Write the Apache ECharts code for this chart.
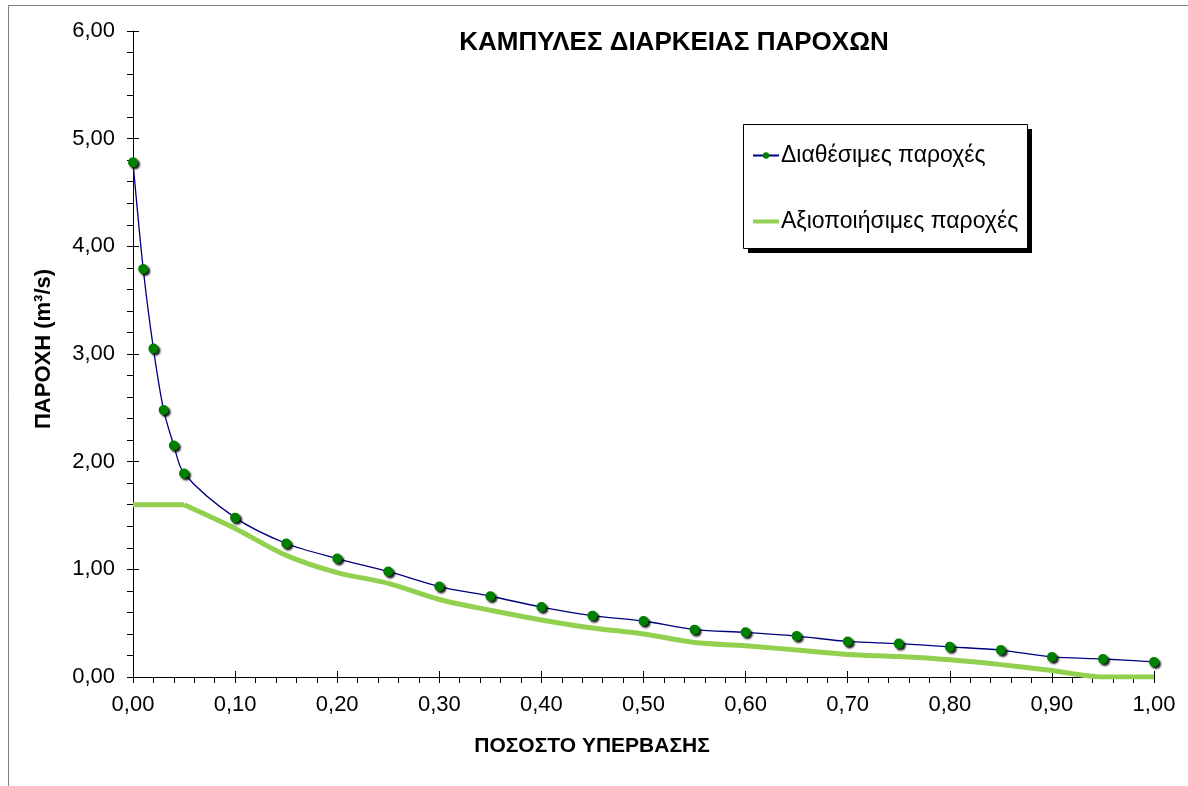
<!DOCTYPE html>
<html>
<head>
<meta charset="utf-8">
<title>Καμπύλες διάρκειας παροχών</title>
<script src="https://cdn.jsdelivr.net/npm/echarts@6/dist/echarts.min.js"></script>
<style>
  html, body { margin: 0; padding: 0; background: #ffffff; }
  #chart { width: 1188px; height: 786px; }
</style>
</head>
<body>
<div id="chart"></div>
<script>
// ποσοστό υπέρβασης / διαθέσιμες παροχές
const availX = [0, 0.01, 0.02, 0.03, 0.04, 0.05, 0.10, 0.15, 0.20, 0.25, 0.30, 0.35, 0.40, 0.45, 0.50, 0.55, 0.60, 0.65, 0.70, 0.75, 0.80, 0.85, 0.90, 0.95, 1.00]
const availY = [4.78, 3.79, 3.05, 2.48, 2.15, 1.89, 1.48, 1.24, 1.10, 0.98, 0.84, 0.75, 0.65, 0.57, 0.52, 0.44, 0.415, 0.38, 0.33, 0.31, 0.28, 0.25, 0.186, 0.167, 0.14]

// αξιοποιήσιμες παροχές (σταθερή 1,60 έως 0,05)
const usableX = [0, 0.01, 0.02, 0.03, 0.04, 0.05, 0.10, 0.15, 0.20, 0.25, 0.30, 0.35, 0.40, 0.45, 0.50, 0.55, 0.60, 0.65, 0.70, 0.75, 0.80, 0.85, 0.90, 0.95, 1.00]
const usableY = [1.60, 1.60, 1.60, 1.60, 1.60, 1.60, 1.38, 1.13, 0.97, 0.87, 0.72, 0.62, 0.53, 0.455, 0.40, 0.32, 0.29, 0.25, 0.21, 0.19, 0.16, 0.115, 0.06, 0.0, 0.0]

const FONT = '"Liberation Sans", Arial, sans-serif'
const fmt = v => v.toFixed(2).replace('.', ',')
const NAME_AVAIL = 'Διαθέσιμες παροχές'
const NAME_USABLE = 'Αξιοποιήσιμες παροχές'

const usablePts = usableX.map((x, i) => [x, usableY[i]])
// the flat part is straight, the rest smoothed (sharp corner at 0,05)
const flatEnd = usableX.indexOf(0.05)
const usableFlat = usablePts.slice(0, flatEnd + 1)
const usableCurve = usablePts.slice(flatEnd)

const chart = echarts.init(document.getElementById('chart'))

const xBase = {
  type: 'value',
  min: 0,
  max: 1,
  interval: 0.1,
  splitLine: { show: false },
  axisLine: { show: true, onZero: false, lineStyle: { color: '#000', width: 1 } }
}
const yBase = {
  type: 'value',
  min: 0,
  max: 6,
  interval: 1,
  splitLine: { show: false },
  axisLine: { show: true, onZero: false, lineStyle: { color: '#000', width: 1 } }
}

const usableLine = {
  name: NAME_USABLE,
  type: 'line',
  symbol: 'none',
  showSymbol: false,
  color: '#92D050',
  lineStyle: { color: '#92D050', width: 5 },
  z: 2
}

chart.setOption({
  backgroundColor: '#ffffff',
  animation: false,
  title: {
    text: 'ΚΑΜΠΥΛΕΣ ΔΙΑΡΚΕΙΑΣ ΠΑΡΟΧΩΝ',
    left: 674,
    top: 30,
    padding: 0,
    textAlign: 'center',
    textStyle: { fontFamily: FONT, fontSize: 26, fontWeight: 'bold', color: '#000' }
  },
  grid: { left: 133, right: 34, top: 31, bottom: 109 },
  graphic: [
    {
      type: 'rect',
      shape: { x: 8.5, y: 5.5, width: 1200, height: 800 },
      style: { fill: 'none', stroke: '#808080', lineWidth: 1 },
      silent: true,
      z: 0
    },
    {
      // legend shadow
      type: 'rect',
      shape: { x: 748, y: 129, width: 284, height: 124 },
      style: { fill: '#000' },
      silent: true,
      z: 5
    },
    {
      type: 'rect',
      shape: { x: 743.5, y: 124.5, width: 284, height: 124 },
      style: { fill: '#fff', stroke: '#000', lineWidth: 1 },
      silent: true,
      z: 6
    },
    {
      type: 'text',
      x: 592,
      y: 746,
      style: {
        text: 'ΠΟΣΟΣΤΟ ΥΠΕΡΒΑΣΗΣ',
        font: 'bold 21px ' + FONT,
        fill: '#000',
        align: 'center',
        verticalAlign: 'middle'
      },
      silent: true
    },
    {
      type: 'text',
      x: 44,
      y: 349,
      rotation: Math.PI / 2,
      style: {
        text: 'ΠΑΡΟΧΗ (m³/s)',
        font: 'bold 22px ' + FONT,
        fill: '#000',
        align: 'center',
        verticalAlign: 'middle'
      },
      silent: true
    }
  ],
  legend: {
    orient: 'vertical',
    left: 751,
    top: 144,
    itemWidth: 26,
    itemHeight: 8,
    itemGap: 43,
    padding: 0,
    z: 10,
    textStyle: { fontFamily: FONT, fontSize: 23, color: '#000', padding: [0, 0, 0, -3] },
    data: [
      { name: NAME_AVAIL },
      { name: NAME_USABLE, itemStyle: { opacity: 0 }, lineStyle: { width: 4, color: '#92D050' } }
    ]
  },
  xAxis: [
    Object.assign({}, xBase, {
      position: 'bottom',
      axisTick: { show: true, inside: false, length: 6, lineStyle: { color: '#000' } },
      minorTick: { show: true, splitNumber: 5, length: 6, lineStyle: { color: '#000' } },
      axisLabel: { margin: 17, formatter: fmt, fontFamily: FONT, fontSize: 22, color: '#000' }
    }),
    Object.assign({}, xBase, {
      position: 'bottom',
      axisLine: { show: false },
      axisTick: { show: true, inside: true, length: 6, lineStyle: { color: '#000' } },
      axisLabel: { show: false }
    })
  ],
  yAxis: [
    Object.assign({}, yBase, {
      axisTick: { show: true, inside: false, length: 6, lineStyle: { color: '#000' } },
      minorTick: { show: true, splitNumber: 5, length: 6, lineStyle: { color: '#000' } },
      axisLabel: { margin: 18, formatter: fmt, fontFamily: FONT, fontSize: 22, color: '#000' }
    }),
    Object.assign({}, yBase, {
      position: 'left',
      axisLine: { show: false },
      axisTick: { show: true, inside: true, length: 6, lineStyle: { color: '#000' } },
      axisLabel: { show: false }
    })
  ],
  series: [
    Object.assign({}, usableLine, { data: usableFlat, smooth: false }),
    Object.assign({}, usableLine, { data: usableCurve, smooth: 0.3 }),
    {
      name: NAME_AVAIL,
      type: 'line',
      data: availX.map((x, i) => [x, availY[i]]),
      smooth: 0.3,
      symbol: 'circle',
      symbolSize: 10,
      color: '#008000',
      lineStyle: { color: '#000080', width: 1.3 },
      itemStyle: {
        color: '#008000',
        shadowColor: 'rgba(0,0,0,0.9)',
        shadowBlur: 2,
        shadowOffsetX: 2,
        shadowOffsetY: 2
      },
      z: 3
    }
  ]
})
</script>
</body>
</html>
